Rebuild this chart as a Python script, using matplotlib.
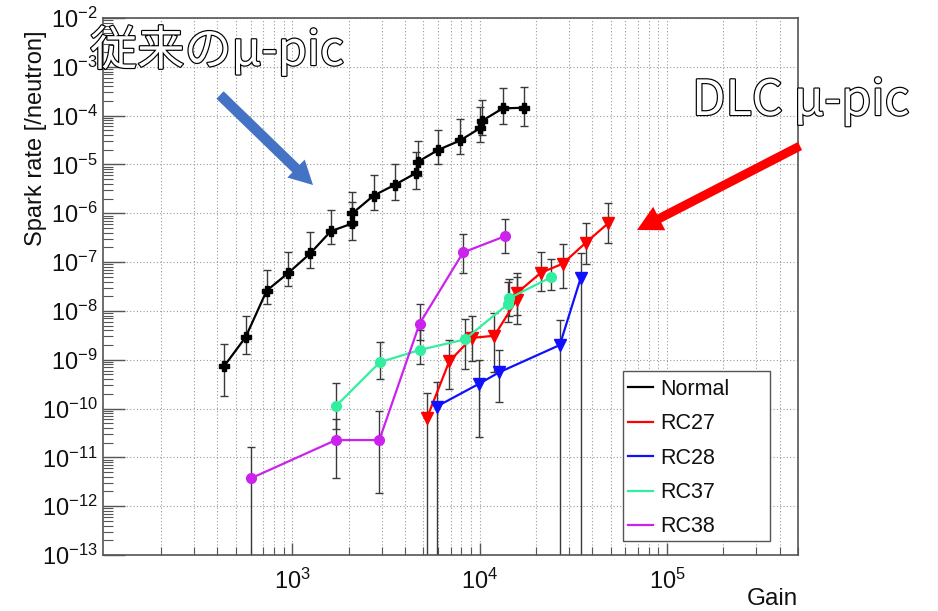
import matplotlib
matplotlib.use("Agg")
import matplotlib.pyplot as plt
import numpy as np
from matplotlib.patches import FancyArrowPatch, Rectangle, ArrowStyle
from matplotlib.lines import Line2D
import matplotlib.patheffects as pe
from matplotlib.ticker import LogLocator, FixedLocator, LogFormatterSciNotation, NullFormatter

plt.rcParams['font.family'] = ['Liberation Sans', 'Noto Sans CJK JP', 'DejaVu Sans']
plt.rcParams['mathtext.fontset'] = 'custom'
plt.rcParams['mathtext.rm'] = 'Liberation Sans'
plt.rcParams['mathtext.it'] = 'Liberation Sans:italic'
plt.rcParams['mathtext.bf'] = 'Liberation Sans:bold'

# ---- data: gain, spark rate and error-bar bounds (lower, upper) ----
normal_gain = [433, 565, 732, 955, 1248, 1610, 2100, 2100, 2720, 3520, 4590, 4680,
               6040, 7880, 10100, 10300, 13300, 17300]
normal_rate = [7.3e-10, 2.9e-9, 2.6e-8, 6.0e-8, 1.5e-7, 4.3e-7, 6.2e-7, 1.0e-6, 2.3e-6,
               3.8e-6, 6.7e-6, 1.13e-5, 2.0e-5, 3.1e-5, 5.6e-5, 7.8e-5, 1.41e-4, 1.45e-4]
normal_lo = [1.85e-10, 1.28e-9, 1.36e-8, 3.2e-8, 7.6e-8, 2.4e-7, 2.8e-7, 5.4e-7, 1.15e-6,
             1.9e-6, 3.2e-6, 5.7e-6, 1.0e-5, 1.6e-5, 2.9e-5, 4.0e-5, 6.9e-5, 6.1e-5]
normal_hi = [2.06e-9, 7.8e-9, 7.0e-8, 1.58e-7, 4.1e-7, 1.15e-6, 1.7e-6, 2.7e-6, 6.2e-6,
             1.0e-5, 1.8e-5, 3.0e-5, 5.2e-5, 8.4e-5, 1.5e-4, 2.1e-4, 3.7e-4, 3.9e-4]

rc27_gain = [5240, 6890, 9090, 11990, 15830, 15770, 21200, 27800, 36900, 48700]
rc27_rate = [6.4e-11, 9.2e-10, 2.8e-9, 3.1e-9, 1.7e-8, 2.3e-8, 6.0e-8, 9.3e-8, 2.5e-7, 6.3e-7]
rc27_lo = [0, 2.5e-10, 9.4e-10, 5.5e-10, 5.5e-9, 8.1e-9, 2.55e-8, 3.0e-8, 9.3e-8, 2.5e-7]
rc27_hi = [2.1e-10, 2.5e-9, 7.7e-9, 9.1e-9, 4.9e-8, 5.9e-8, 1.6e-7, 2.4e-7, 6.3e-7, 1.6e-6]

rc28_gain = [5910, 9920, 12700, 26800, 34700]
rc28_rate = [1.1e-10, 3.2e-10, 5.5e-10, 2.0e-9, 4.8e-8]
rc28_lo = [0, 2.6e-11, 1.35e-10, 0, 0]
rc28_hi = [3.5e-10, 9.7e-10, 1.55e-9, 6.6e-9, 1.5e-7]

rc37_gain = [1710, 2940, 4840, 8340, 14100, 14300, 24100]
rc37_rate = [1.11e-10, 8.9e-10, 1.6e-9, 2.6e-9, 1.36e-8, 1.8e-8, 4.9e-8]
rc37_lo = [3.9e-11, 4.1e-10, 8.3e-10, 6.5e-10, 5.9e-9, 7.7e-9, 2.7e-8]
rc37_hi = [3.4e-10, 2.3e-9, 4.0e-9, 6.7e-9, 3.9e-8, 4.6e-8, 1.18e-7]

rc38_gain = [601, 1710, 2920, 4790, 8180, 13700]
rc38_rate = [3.7e-12, 2.26e-11, 2.26e-11, 5.5e-9, 1.58e-7, 3.4e-7]
rc38_lo = [0, 3.7e-12, 1.9e-12, 2.5e-9, 6.0e-8, 1.5e-7]
rc38_hi = [1.66e-11, 6.2e-11, 9.1e-11, 1.41e-8, 3.8e-7, 7.5e-7]

series_names = ["Normal", "RC27", "RC28", "RC37", "RC38"]
series_colors = ["#000000", "#FF0000", "#1010FF", "#33EEA0", "#CC22EE"]
series_markers = ["P", "v", "v", "o", "o"]
series_msize = [7, 8, 8, 7, 7]

x_major_ticks = [1e3, 1e4, 1e5]

series = [
    (normal_gain, normal_rate, normal_lo, normal_hi),
    (rc27_gain, rc27_rate, rc27_lo, rc27_hi),
    (rc28_gain, rc28_rate, rc28_lo, rc28_hi),
    (rc37_gain, rc37_rate, rc37_lo, rc37_hi),
    (rc38_gain, rc38_rate, rc38_lo, rc38_hi),
]

W, H = 938, 611
fig = plt.figure(figsize=(W / 100, H / 100), dpi=100)
ax = fig.add_axes([103 / W, 1 - 555 / H, 695 / W, 537 / H])
ax.set_xscale("log")
ax.set_yscale("log")
ax.set_xlim(98, 5e5)
ax.set_ylim(1e-13, 1e-2)

axis_grey = "#555555"
for s in ax.spines.values():
    s.set_color(axis_grey)
    s.set_linewidth(1.2)

ax.xaxis.set_major_locator(FixedLocator(x_major_ticks))
ax.xaxis.set_minor_locator(LogLocator(base=10, subs=np.arange(2, 10), numticks=50))
ax.yaxis.set_major_locator(LogLocator(base=10, numticks=20))
ax.yaxis.set_minor_locator(LogLocator(base=10, subs=np.arange(2, 10), numticks=100))
ax.xaxis.set_major_formatter(LogFormatterSciNotation())
ax.yaxis.set_major_formatter(LogFormatterSciNotation())
ax.xaxis.set_minor_formatter(NullFormatter())
ax.yaxis.set_minor_formatter(NullFormatter())

ax.tick_params(axis="y", which="major", direction="in", length=16, width=1,
               color=axis_grey, labelsize=17, pad=4, labelcolor="#111111")
ax.tick_params(axis="y", which="minor", direction="in", length=7, width=0.8,
               color=axis_grey)
ax.tick_params(axis="x", which="major", direction="in", length=9, width=1,
               color=axis_grey, labelsize=17, pad=10, labelcolor="#111111")
ax.tick_params(axis="x", which="minor", direction="in", length=6, width=0.8,
               color=axis_grey)

ax.grid(which="major", axis="both", linestyle=(0, (1, 2)), color="#9a9a9a", lw=0.8)
ax.grid(which="minor", axis="x", linestyle=(0, (1, 2)), color="#9a9a9a", lw=0.8)
ax.set_axisbelow(True)

# error bars first, then connecting lines with markers
for (g, r, lo, hi) in series:
    g = np.array(g, float)
    r = np.array(r, float)
    lo = np.array(lo, float)
    hi = np.array(hi, float)
    ax.errorbar(g, r, yerr=[r - lo, hi - r], fmt="none", ecolor="#3a3a3a",
                elinewidth=1.0, capsize=3, capthick=1.0, zorder=2)
for (g, r, lo, hi), col, mk, ms in zip(series, series_colors, series_markers, series_msize):
    ax.plot(g, r, color=col, lw=1.6, marker=mk, markersize=ms,
            markerfacecolor=col, markeredgecolor=col, zorder=3)

# axis titles
fig.text(36 / W, 1 - 30 / H, "Spark rate [/neutron]", rotation=90, ha="center",
         va="top", fontsize=17, color="#111111")
fig.text(798 / W, 1 - 605 / H, "Gain", ha="right", va="baseline", fontsize=17.5,
         color="#111111")

# legend box
fig.patches.append(Rectangle((623 / W, 1 - 541 / H), 147 / W, 170 / H,
                             transform=fig.transFigure, fill=True, facecolor="white",
                             edgecolor=axis_grey, lw=1.0, zorder=5))
handles = [Line2D([], [], color=c, lw=1.6) for c in series_colors]
leg = fig.legend(handles, series_names, loc="upper left",
                 bbox_to_anchor=(628 / W, 1 - 379 / H), frameon=False,
                 fontsize=15.5, handlelength=1.15, handletextpad=0.33,
                 labelspacing=0.62, borderpad=0, borderaxespad=0)
leg.set_zorder(6)
for t in leg.get_texts():
    t.set_color("#111111")

# callout labels and arrows
outline = [pe.withStroke(linewidth=1.7, foreground="black")]
fig.text(90 / W, 1 - 65 / H, "従来のμ-pic", fontsize=34, color="white",
         ha="left", va="baseline", family=["Noto Sans CJK JP", "DejaVu Sans"],
         path_effects=outline)
fig.text(692 / W, 1 - 115 / H, "DLC μ-pic", fontsize=35, color="white",
         ha="left", va="baseline", family=["Noto Sans CJK JP", "DejaVu Sans"],
         path_effects=outline)

blue_arrow = FancyArrowPatch((220 / W, 1 - 95 / H), (313 / W, 1 - 185 / H),
                             transform=fig.transFigure,
                             arrowstyle=ArrowStyle.Simple(head_length=1.7, head_width=1.8,
                                                          tail_width=0.75),
                             mutation_scale=10, color="#4472C4", lw=0,
                             shrinkA=0, shrinkB=0)
red_arrow = FancyArrowPatch((800 / W, 1 - 146 / H), (637 / W, 1 - 230 / H),
                            transform=fig.transFigure,
                            arrowstyle=ArrowStyle.Simple(head_length=1.8, head_width=1.9,
                                                         tail_width=0.65),
                            mutation_scale=10, color="#FF0000", lw=0,
                            shrinkA=0, shrinkB=0)
fig.patches.append(blue_arrow)
fig.patches.append(red_arrow)

fig.savefig("out.png", dpi=100)
